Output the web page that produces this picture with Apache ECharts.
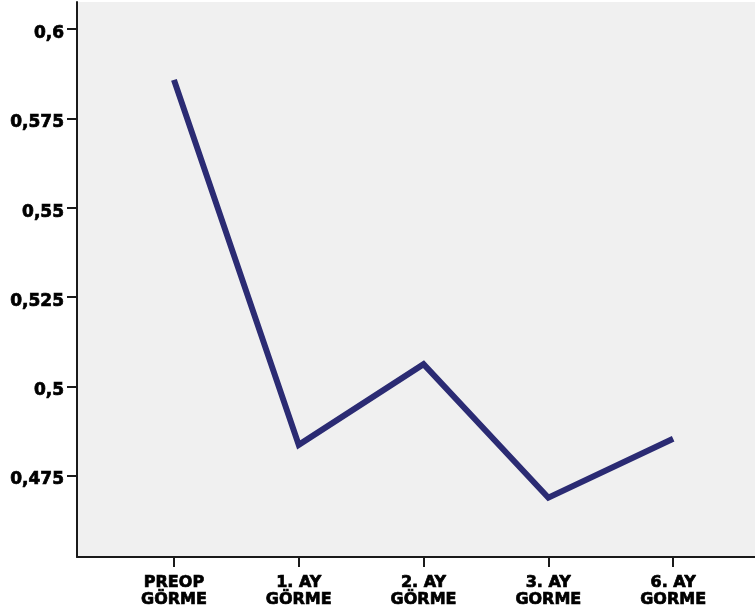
<!DOCTYPE html>
<html>
<head>
<meta charset="utf-8">
<script src="https://cdn.jsdelivr.net/npm/echarts@6/dist/echarts.min.js"></script>
<style>
  html, body { margin: 0; padding: 0; background: #ffffff; }
  #chart { width: 755px; height: 614px; }
</style>
</head>
<body>
<div id="chart"></div>
<script>
// Time points along the horizontal axis
const categories = ['PREOP\nGÖRME', '1. AY\nGÖRME', '2. AY\nGÖRME', '3. AY\nGORME', '6. AY\nGORME'];
// Mean values at each time point
const values = [0.5858, 0.4836, 0.5062, 0.4688, 0.4853];
// Value-axis tick marks
const yTicks = [0.475, 0.5, 0.525, 0.55, 0.575, 0.6];

const fontFamily = '"DejaVu Sans", sans-serif';
const positions = categories.map((_, i) => i);

const chart = echarts.init(document.getElementById('chart'), null, { renderer: 'canvas' });
chart.setOption({
  animation: false,
  backgroundColor: '#ffffff',
  grid: {
    left: 77, right: 0, top: 2, bottom: 57,
    show: true, backgroundColor: '#f0f0f0', borderWidth: 0
  },
  xAxis: {
    type: 'value',
    min: -0.777,
    max: 4.656,
    splitLine: { show: false },
    axisLine: { show: true, onZero: false, lineStyle: { color: '#1a1a1a', width: 2 } },
    axisTick: { show: true, customValues: positions, length: 10, lineStyle: { color: '#1a1a1a', width: 2 } },
    axisLabel: {
      customValues: positions,
      formatter: v => categories[Math.round(v)] || '',
      fontFamily, fontWeight: 'bold', fontSize: 16, color: '#000',
      textBorderColor: '#000', textBorderWidth: 0.7,
      lineHeight: 17, margin: 17, align: 'center'
    }
  },
  yAxis: {
    type: 'value',
    min: 0.4522,
    max: 0.6076,
    splitLine: { show: false },
    axisLine: { show: true, onZero: false, lineStyle: { color: '#1a1a1a', width: 2 } },
    axisTick: { show: true, customValues: yTicks, length: 10, lineStyle: { color: '#1a1a1a', width: 2 } },
    axisLabel: {
      customValues: yTicks,
      formatter: v => '{v|' + String(+v.toFixed(3)).replace('.', ',') + '}',
      margin: 13,
      rich: {
        v: {
          fontFamily, fontWeight: 'bold', fontSize: 17, color: '#000',
          textBorderColor: '#000', textBorderWidth: 0.7,
          lineHeight: 17, padding: [9, 0, 0, 0]
        }
      }
    }
  },
  series: [{
    type: 'line',
    data: positions.map((p, i) => [p, values[i]]),
    symbol: 'none',
    lineStyle: { color: '#2b2b73', width: 6, cap: 'butt', join: 'miter' }
  }]
});
</script>
</body>
</html>
